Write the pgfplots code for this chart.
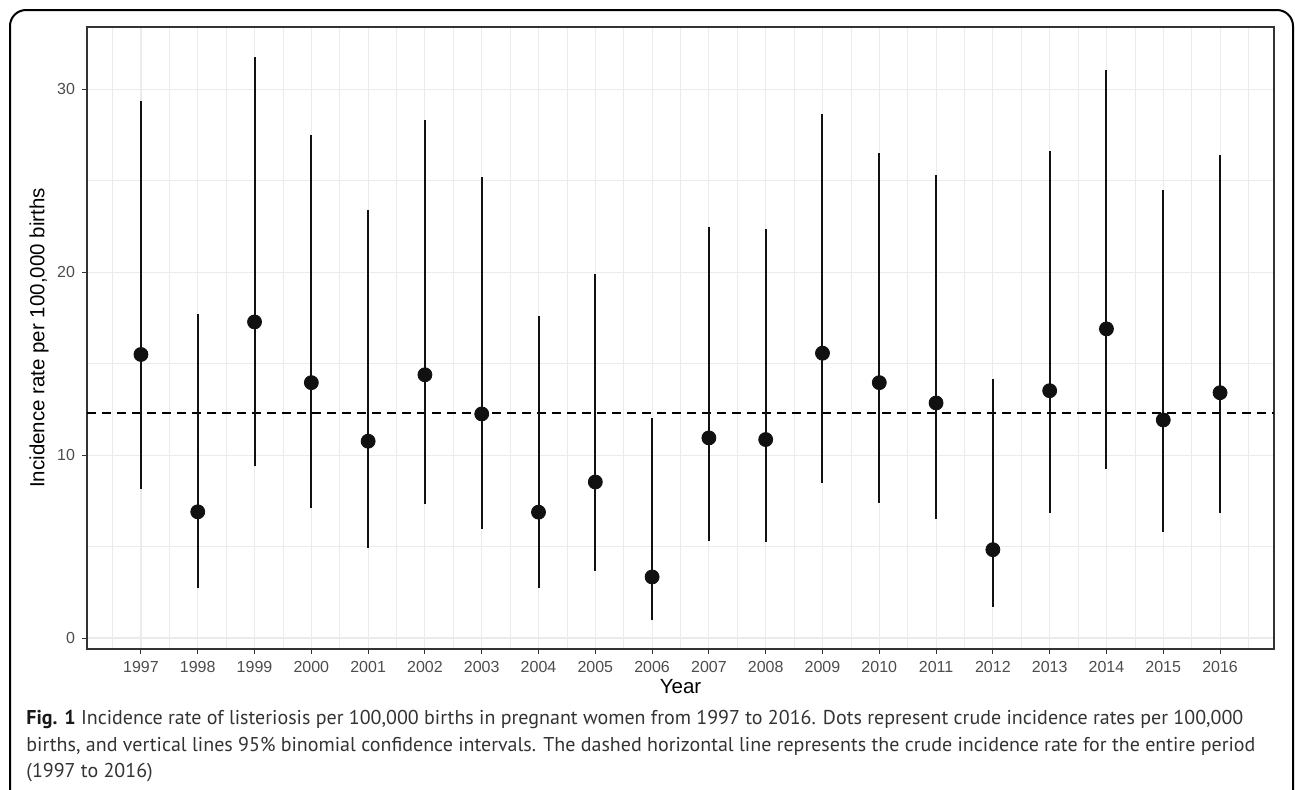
\documentclass[border=0pt]{standalone}
\usepackage{pgfplots}
\pgfplotsset{compat=1.18}
\usepackage{pgfplotstable}
\usepackage{fontspec}
\setmainfont{Liberation Sans}
\newfontfamily\capfont{PT Sans}
\definecolor{gridc}{HTML}{EBEBEB}
\definecolor{tickc}{HTML}{4D4D4D}
\definecolor{framec}{HTML}{333333}
\definecolor{capc}{HTML}{333333}
\definecolor{dotc}{HTML}{111111}

\pgfplotstableread{
year lo est hi
1997 8.17 15.50 29.38
1998 2.72 6.90 17.71
1999 9.40 17.28 31.78
2000 7.10 13.96 27.48
2001 4.94 10.76 23.39
2002 7.30 14.39 28.33
2003 5.95 12.25 25.21
2004 2.72 6.88 17.62
2005 3.67 8.53 19.89
2006 0.96 3.34 12.03
2007 5.30 10.94 22.47
2008 5.26 10.85 22.34
2009 8.49 15.57 28.62
2010 7.37 13.96 26.50
2011 6.53 12.85 25.32
2012 1.67 4.83 14.14
2013 6.86 13.52 26.61
2014 9.22 16.90 31.07
2015 5.79 11.92 24.50
2016 6.82 13.41 26.39
}\rates

\begin{document}
\begin{tikzpicture}
\useasboundingbox (0pt,0pt) rectangle (647.5pt,-394.5pt);
\draw[line width=1pt, rounded corners=8pt] (5pt,-420pt) -- (5pt,-5pt) -- (646.5pt,-5pt) -- (646.5pt,-420pt);
\begin{axis}[
  at={(43.5pt,-324.5pt)}, anchor=south west,
  scale only axis, width=593.5pt, height=311pt,
  xmin=1996.05, xmax=2016.95, ymin=-0.6, ymax=33.4,
  xtick={1997,1998,...,2016},
  minor xtick={1996.5,1997.5,...,2016.5},
  ytick={0,10,20,30},
  minor ytick={5,15,25},
  grid=both,
  major grid style={gridc, line width=0.55pt},
  minor grid style={gridc, line width=0.3pt},
  tick align=outside,
  major tick length=2.5pt,
  minor tick length=0pt,
  tick style={framec, line width=0.5pt},
  xtick pos=bottom, ytick pos=left,
  axis line style={framec, line width=0.7pt},
  /pgf/number format/assume math mode=true,
  xticklabel style={/pgf/number format/1000 sep=},
  tick label style={font=\fontsize{8}{9.6}\selectfont, text=tickc},
  label style={font=\fontsize{10.25}{12}\selectfont, text=black},
  xlabel={Year},
  ylabel={Incidence rate per 100,000 births},
  xlabel style={at={(axis description cs:0.5,-0.0611)}, anchor=center},
  ylabel style={at={(axis description cs:-0.0404,0.5)}, anchor=center, rotate=0},
  clip=false,
]
\addplot[black, line width=0.75pt, dash pattern=on 4.5pt off 3pt] coordinates {(1996.05,12.29) (2016.95,12.29)};
\addplot[draw=none, mark=none,
  error bars/.cd, y dir=both, y explicit, error mark=none,
  error bar style={dotc, line width=1pt}]
  table[x=year, y=est, y error plus expr=\thisrow{hi}-\thisrow{est}, y error minus expr=\thisrow{est}-\thisrow{lo}] {\rates};
\addplot[only marks, mark=*, mark size=3.5pt, color=dotc, fill=dotc] table[x=year, y=est] {\rates};
\end{axis}
\begin{scope}[every node/.style={font=\capfont\fontsize{10}{12}\selectfont, text=capc, anchor=base west, inner sep=0}]
\node at (13pt,-362.25pt) {\textbf{\color{black!90}Fig. 1} Incidence rate of listeriosis per 100,000 births in pregnant women from 1997 to 2016. Dots represent crude incidence rates per 100,000};
\node at (13pt,-375.5pt) {births, and vertical lines 95\% binomial confidence intervals. The dashed horizontal line represents the crude incidence rate for the entire period};
\node at (13pt,-388.75pt) {(1997 to 2016)};
\end{scope}
\end{tikzpicture}
\end{document}
